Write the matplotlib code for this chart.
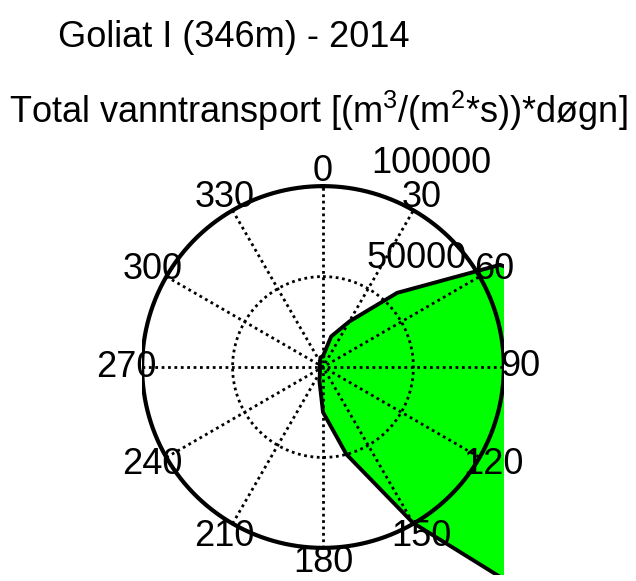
import numpy as np
import matplotlib
matplotlib.use("Agg")
import matplotlib.pyplot as plt

plt.rcParams['font.family'] = ['Liberation Sans', 'DejaVu Sans']
plt.rcParams['mathtext.fontset'] = 'custom'
plt.rcParams['mathtext.rm'] = 'Liberation Sans'

# direction (deg, clockwise from north) and total transport
dirs = [0, 15, 30, 45, 60, 75, 90, 105, 120, 135, 150, 165,
        180, 195, 210, 225, 240, 255, 270, 285, 300, 315, 330, 345]
vals = [6000, 17500, 29000, 58000, 113000, 150000, 175000, 190000, 200000, 206000, 99500, 50000,
        25000, 7700, 3300, 2400, 2000, 1800, 1700, 1800, 2000, 2400, 3300, 5500]

rmax = 100000
rings = [50000, 100000]
ring_labels = ['50000', '100000']
ring_label_pos = [(51900, 60200), (59700, 112700)]
spoke_angles = [0, 30, 60, 90, 120, 150]
angle_labels = [0, 30, 60, 90, 120, 150, 180, 210, 240, 270, 300, 330]

title1 = 'Goliat I (346m) - 2014'
title2 = r'Total vanntransport [(m$^3$/(m$^2$*s))*døgn]'

fig = plt.figure(figsize=(6.36, 5.81), dpi=100)
ax = fig.add_axes([142/636, 6/581, 362/636, 416/581])
ax.set_xlim(-rmax, rmax)
ax.set_ylim(-1.15*rmax, 1.15*rmax)
ax.set_aspect('equal')
ax.axis('off')

th = np.radians(dirs + [dirs[0]])
r = np.array(vals + [vals[0]])
x = r*np.sin(th)
y = r*np.cos(th)
ax.fill(x, y, color=(0, 1, 0), lw=0, zorder=1)

# grid
t = np.linspace(0, 2*np.pi, 361)
dot = (0, (1, 1.3))
for rr in rings[:-1]:
    ax.plot(rr*np.sin(t), rr*np.cos(t), color='k', lw=2.0, ls=dot, zorder=2)
for a in spoke_angles:
    s, c = np.sin(np.radians(a)), np.cos(np.radians(a))
    ax.plot([-rmax*s, rmax*s], [-rmax*c, rmax*c], color='k', lw=2.0, ls=dot, zorder=2)
ax.plot(rmax*np.sin(t), rmax*np.cos(t), color='k', lw=3.0, zorder=3)

ax.plot(x, y, color='k', lw=2.8, zorder=4)

for a in angle_labels:
    ax.text(1.09*rmax*np.sin(np.radians(a)), 1.08*rmax*np.cos(np.radians(a)), str(a),
            ha='center', va='center', fontsize=26, clip_on=False, zorder=5)
for lab, (lx, ly) in zip(ring_labels, ring_label_pos):
    ax.text(lx, ly, lab, ha='center', va='center', fontsize=26, clip_on=False, zorder=5)

fig.text(234/636, 1 - 47/581, title1, ha='center', va='baseline', fontsize=26)
fig.text(318/636, 1 - 123/581, title2, ha='center', va='baseline', fontsize=26)

fig.savefig('out.png', dpi=100)
